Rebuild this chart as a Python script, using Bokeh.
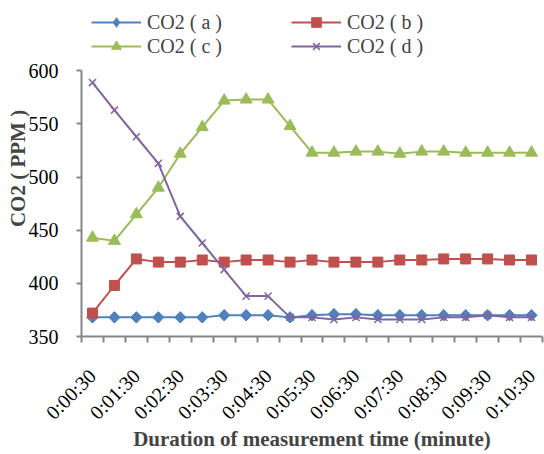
import math
from bokeh.plotting import figure
from bokeh.models import FixedTicker, Legend, Range1d
from bokeh.embed import file_html
from bokeh.resources import INLINE

times = ["0:00:30", "0:01:00", "0:01:30", "0:02:00", "0:02:30", "0:03:00", "0:03:30",
         "0:04:00", "0:04:30", "0:05:00", "0:05:30", "0:06:00", "0:06:30", "0:07:00",
         "0:07:30", "0:08:00", "0:08:30", "0:09:00", "0:09:30", "0:10:00", "0:10:30"]
co2_a = [368, 368, 368, 368, 368, 368, 370, 370, 370, 368, 370, 371, 371, 370, 370, 370, 370, 370, 370, 370, 370]
co2_b = [372, 398, 423, 420, 420, 422, 420, 422, 422, 420, 422, 420, 420, 420, 422, 422, 423, 423, 423, 422, 422]
co2_c = [443, 440, 465, 490, 522, 547, 572, 573, 573, 548, 523, 523, 524, 524, 522, 524, 524, 523, 523, 523, 523]
co2_d = [589, 563, 538, 513, 463, 438, 413, 388, 388, 368, 368, 366, 368, 366, 366, 366, 368, 368, 370, 368, 368]
series_labels = ["CO2 ( a )", "CO2 ( b )", "CO2 ( c )", "CO2 ( d )"]
colors = ["#4F81BD", "#C0504D", "#9BBB59", "#8064A2"]
y_ticks = [350, 400, 450, 500, 550, 600]

FONT = "Liberation Serif"
AX = "#868686"

x = list(range(len(times)))

# frame spans the whole top area so the legend sits inside it; the axis line stops at 600
PX_PER_UNIT = 268 / 250
y_top = 600 + 71 / PX_PER_UNIT

p = figure(width=544, height=454, output_backend="svg", toolbar_location=None,
           x_range=Range1d(-0.5, len(times) - 0.5), y_range=Range1d(350, y_top),
           min_border_left=81, min_border_right=2, min_border_top=0, min_border_bottom=115)
p.outline_line_color = None
p.xgrid.visible = False
p.ygrid.visible = False

items = []
specs = [
    (co2_a, dict(marker="square", angle=math.pi / 4, size=8)),
    (co2_b, dict(marker="square", size=10)),
    (co2_c, dict(marker="triangle", size=12)),
    (co2_d, dict(marker="x", size=10, line_width=1.5)),
]
for i, ((vals, mk), lab, col) in enumerate(zip(specs, series_labels, colors)):
    ln = p.line(x, vals, line_color=col, line_width=2)
    sc = p.scatter(x, vals, fill_color=col, line_color=col, **mk)
    if i == 0:
        # a slimmer diamond that sits inside the rotated square, used as the legend glyph
        dm = p.scatter(x, vals, marker="diamond", size=11, fill_color=col, line_color=col)
        items.append((lab, [ln, dm]))
    else:
        items.append((lab, [ln, sc]))

# column-major order: a, c in first column; b, d in second
legend = Legend(items=[items[0], items[2], items[1], items[3]],
                location="top_left", orientation="vertical", ncols=2)
legend.label_text_font = FONT
legend.label_text_font_size = "20px"
legend.label_standoff = 6
legend.glyph_width = 50
legend.glyph_height = 24
legend.label_height = 24
legend.label_width = 144
legend.spacing = 0
legend.padding = 0
legend.margin = 10
legend.border_line_color = None
legend.background_fill_alpha = 0
p.add_layout(legend)

# y axis
p.yaxis.bounds = (350, 600)
p.yaxis.ticker = FixedTicker(ticks=y_ticks)
p.yaxis.axis_label = "CO2 ( PPM )"
p.yaxis.axis_label_text_font = FONT
p.yaxis.axis_label_text_font_style = "bold"
p.yaxis.axis_label_text_font_size = "21px"
p.yaxis.axis_label_standoff = -4
p.yaxis.major_label_text_font = FONT
p.yaxis.major_label_text_font_size = "20px"
p.yaxis.major_label_text_color = "black"
p.yaxis.major_label_standoff = 18
p.yaxis.major_tick_out = 5
p.yaxis.major_tick_in = 0
p.yaxis.minor_tick_line_color = None
p.yaxis.axis_line_color = AX
p.yaxis.axis_line_width = 2
p.yaxis.major_tick_line_color = AX
p.yaxis.major_tick_line_width = 2

# x axis
label_idx = x[::2]
p.xaxis.ticker = FixedTicker(ticks=label_idx, minor_ticks=[i - 0.5 for i in range(len(times) + 1)])
p.xaxis.major_label_overrides = {i: times[i] for i in label_idx}
p.xaxis.major_label_orientation = math.pi / 4
p.xaxis.major_label_text_font = FONT
p.xaxis.major_label_text_font_size = "20px"
p.xaxis.major_label_text_color = "black"
p.xaxis.major_label_standoff = 30
p.xaxis.major_tick_line_color = None
p.xaxis.major_tick_out = 6
p.xaxis.minor_tick_out = 6
p.xaxis.minor_tick_in = 0
p.xaxis.minor_tick_line_color = AX
p.xaxis.minor_tick_line_width = 2
p.xaxis.axis_line_color = AX
p.xaxis.axis_line_width = 2
p.xaxis.axis_label = "Duration of measurement time (minute)"
p.xaxis.axis_label_text_font = FONT
p.xaxis.axis_label_text_font_style = "bold"
p.xaxis.axis_label_text_font_size = "21px"
p.xaxis.axis_label_standoff = -7

open("out.html", "w").write(file_html(p, INLINE))
